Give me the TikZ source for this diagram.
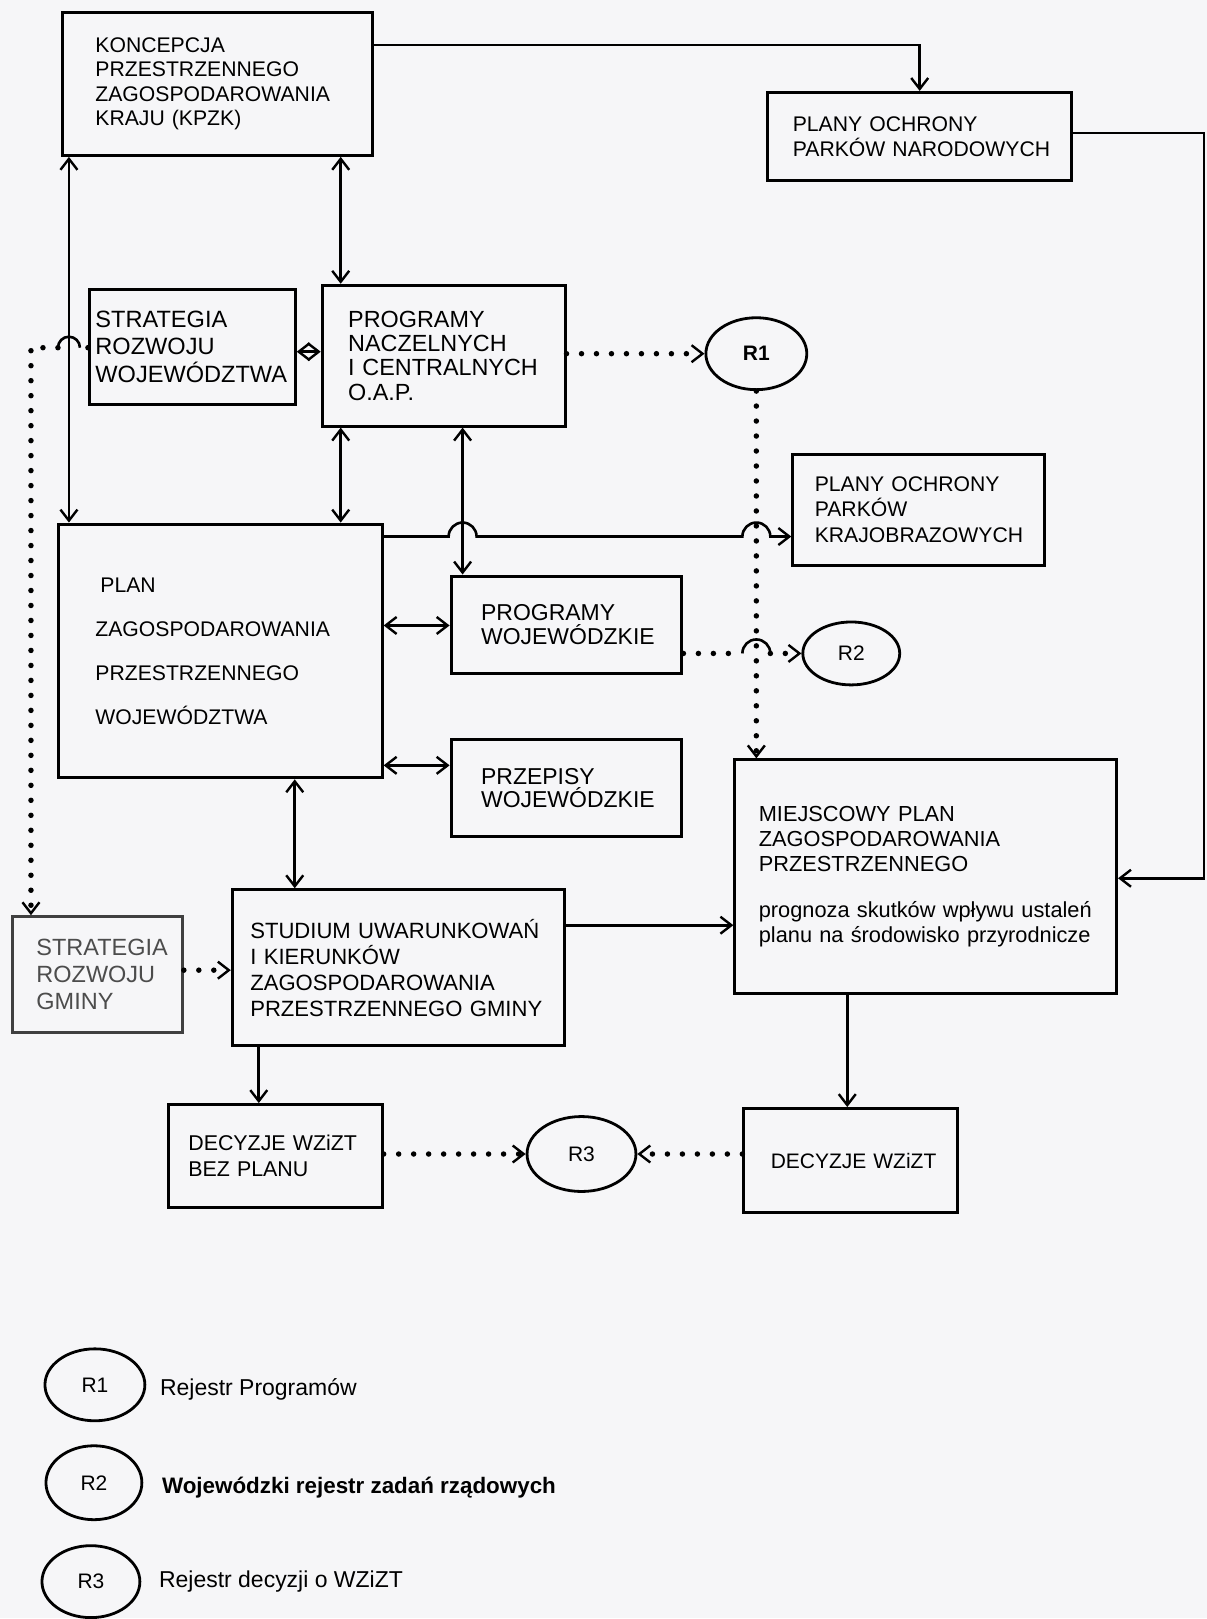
\documentclass[tikz,border=0pt]{standalone}
\usepackage{fontspec}
\setmainfont{Liberation Sans}
\usetikzlibrary{arrows.meta,shapes.geometric}
\definecolor{paper}{RGB}{246,246,248}
\hyphenpenalty=10000
\exhyphenpenalty=10000
\begin{document}
\begin{tikzpicture}[x=1pt,y=-1pt,
    >={Straight Barb[length=11pt,width=17pt,line width=2.4pt]},
    box/.style={draw,line width=3pt,anchor=north west,align=left,inner ysep=0pt},
    reg/.style={draw,ellipse,line width=2.8pt,inner sep=0pt,font=\fontsize{21}{25}\selectfont},
    wire/.style={line width=2.6pt},
    dots/.style={line width=5.5pt,line cap=round,dash pattern=on 0pt off 15pt}]
  \fill[paper] (0,0) rectangle (1208,1619);
  % boxes
  \node[box,minimum width=310pt,minimum height=143pt,inner xsep=33pt,text width=244pt,font=\fontsize{21.2}{24.5}\selectfont] (kpzk) at (61,11) {KONCEPCJA\\PRZESTRZENNEGO\\ZAGOSPODAROWANIA\\KRAJU (KPZK)};
  \node[box,minimum width=304pt,minimum height=88pt,inner xsep=25pt,text width=254pt,font=\fontsize{21.2}{25}\selectfont] (pon) at (767,91) {PLANY OCHRONY\\PARKÓW~NARODOWYCH};
  \node[box,minimum width=206pt,minimum height=115pt,inner xsep=6pt,text width=194pt,font=\fontsize{23.6}{27.5}\selectfont] (swoj) at (88,288) {STRATEGIA\\ROZWOJU\\WOJEWÓDZTWA};
  \node[box,minimum width=243pt,minimum height=141pt,inner xsep=26pt,text width=191pt,font=\fontsize{23.4}{24.3}\selectfont] (prog) at (321,284) {PROGRAMY\\NACZELNYCH\\I~CENTRALNYCH\\O.A.P.};
  \node[box,minimum width=324pt,minimum height=254pt,inner xsep=37pt,text width=250pt,font=\fontsize{21.2}{44}\selectfont] (plan) at (57,523) {\hspace*{5pt}PLAN\\ZAGOSPODAROWANIA\\PRZESTRZENNEGO\\WOJEWÓDZTWA};
  \node[box,minimum width=231pt,minimum height=98pt,inner xsep=30pt,text width=171pt,font=\fontsize{23}{24}\selectfont] (progwoj) at (450,575) {PROGRAMY\\WOJEWÓDZKIE};
  \node[box,minimum width=231pt,minimum height=97pt,inner xsep=30pt,text width=171pt,font=\fontsize{23}{23}\selectfont] (przep) at (450,739) {PRZEPISY\\WOJEWÓDZKIE};
  \node[box,minimum width=252pt,minimum height=111pt,inner xsep=22pt,text width=208pt,font=\fontsize{21.2}{25.5}\selectfont] (ppk) at (792,453) {PLANY~OCHRONY\\PARKÓW\\KRAJOBRAZOWYCH};
  \node[box,minimum width=382pt,minimum height=234pt,inner xsep=24pt,text width=334pt,font=\fontsize{21.8}{25}\selectfont] (mpzp) at (734,759) {MIEJSCOWY~PLAN\\ZAGOSPODAROWANIA\\PRZESTRZENNEGO\\[21pt]prognoza~skutków~wpływu~ustaleń\\planu~na~środowisko~przyrodnicze};
  \node[box,draw=black!75,text=black!70,minimum width=170pt,minimum height=116pt,inner xsep=24pt,text width=122pt,font=\fontsize{23.5}{27}\selectfont] (sgm) at (11,916) {STRATEGIA\\ROZWOJU\\GMINY};
  \node[box,minimum width=332pt,minimum height=156pt,inner xsep=18pt,text width=296pt,font=\fontsize{22.1}{26}\selectfont] (stud) at (231,889) {STUDIUM~UWARUNKOWAŃ\\I~KIERUNKÓW\\ZAGOSPODAROWANIA\\PRZESTRZENNEGO~GMINY};
  \node[box,minimum width=214pt,minimum height=103pt,inner xsep=20pt,text width=174pt,font=\fontsize{21.4}{25.5}\selectfont] (dbp) at (167,1104) {DECYZJE~WZiZT\\BEZ~PLANU};
  \node[box,minimum width=214pt,minimum height=104pt,inner xsep=27pt,text width=160pt,font=\fontsize{21}{25}\selectfont] (dwz) at (743,1108) {DECYZJE~WZiZT};
  % registers
  \node[reg,minimum width=101pt,minimum height=72pt,font=\bfseries\fontsize{21}{25}\selectfont] (r1) at (757,354) {R1};
  \node[reg,minimum width=97pt,minimum height=63pt] (r2) at (852,654) {R2};
  \node[reg,minimum width=109pt,minimum height=75pt] (r3) at (582,1155) {R3};
  % legend
  \node[reg,minimum width=100pt,minimum height=72pt] (l1) at (95,1386) {R1};
  \node[reg,minimum width=96pt,minimum height=74pt] (l2) at (94,1484) {R2};
  \node[reg,minimum width=98pt,minimum height=72pt] (l3) at (91,1583) {R3};
  \node[anchor=west,inner sep=0pt,font=\fontsize{23}{27}\selectfont] (t1) at (160,1391) {Rejestr Programów};
  \node[anchor=west,inner sep=0pt,font=\bfseries\fontsize{22.4}{27}\selectfont] (t2) at (162,1489) {Wojewódzki rejestr zadań rządowych};
  \node[anchor=west,inner sep=0pt,font=\fontsize{23}{27}\selectfont] (t3) at (159,1583) {Rejestr decyzji o WZiZT};
  % solid links
  \draw[wire,->] (kpzk.east |- 0,45) -| (pon);
  \draw[wire,->] (pon.east |- 0,133) -- (1205,133) |- (mpzp.east |- 0,879);
  \draw[wire,<->] (kpzk.south -| 69,0) -- (plan.north -| 69,0);
  \draw[wire,<->] (kpzk.south -| 341,0) -- (prog.north -| 341,0);
  \draw[wire,<->] (swoj.east |- 0,352) -- (prog.west |- 0,352);
  \draw[wire,<->] (prog.south -| 341,0) -- (plan.north -| 341,0);
  \draw[wire,<->] (prog.south -| 463,0) -- (progwoj.north -| 463,0);
  \draw[wire,->] (plan.east |- 0,537) -- (449,537) arc[start angle=180,end angle=0,radius=14pt]
    -- (743,537) arc[start angle=180,end angle=0,radius=14pt] -- (ppk.west |- 0,537);
  \draw[wire,<->] (plan.east |- 0,626) -- (progwoj.west |- 0,626);
  \draw[wire,<->] (plan.east |- 0,766) -- (przep.west |- 0,766);
  \draw[wire,<->] (plan.south -| 295,0) -- (stud.north -| 295,0);
  \draw[wire,->] (stud.east |- 0,926) -- (mpzp.west |- 0,926);
  \draw[wire,->] (stud.south -| 259,0) -- (dbp.north -| 259,0);
  \draw[wire,->] (mpzp.south -| 848,0) -- (dwz.north -| 848,0);
  % dotted links
  \draw[dots] (swoj.west |- 0,348) -- (80,348);
  \draw[wire] (80,348) arc[start angle=0,end angle=180,radius=11pt];
  \draw[dots,->] (58,348) -- (31,348) -- (sgm.north -| 31,0);
  \draw[dots,->] (prog.east |- r1) -- (r1);
  \draw[dots,->] (r1) -- (mpzp.north -| r1);
  \draw[dots] (progwoj.east |- 0,654) -- (740,654);
  \draw[wire] (743,654) arc[start angle=180,end angle=0,radius=14pt];
  \draw[dots,->] (771,654) -- (r2);
  \draw[dots,->] (sgm.east |- 0,971) -- (stud.west |- 0,971);
  \draw[dots,->] (dbp.east |- r3) -- (r3);
  \draw[dots,->] (dwz.west |- r3) -- (r3);
\end{tikzpicture}
\end{document}
